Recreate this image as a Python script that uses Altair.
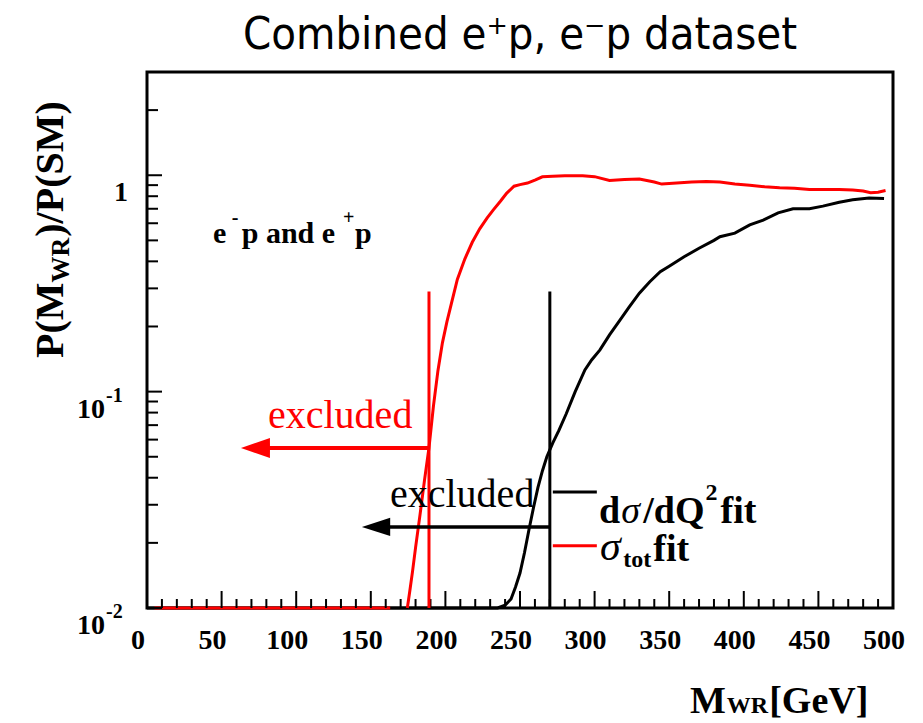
import altair as alt
import pandas as pd

# ---------------- data ----------------
# black curve: d sigma / dQ^2 fit
black_x = [0, 235, 240, 244, 247, 250, 253, 256, 259, 262, 265, 268, 272, 276, 281, 287, 293.5, 298, 303.6,
           310, 317, 323, 330, 337, 344, 350, 360, 370, 380, 384, 394, 404, 413, 423, 433, 444, 453, 464,
           473, 484, 494]
black_y = [0.01, 0.01, 0.0103, 0.011, 0.0125, 0.0145, 0.018, 0.023, 0.029, 0.036, 0.043, 0.05, 0.058, 0.066,
           0.079, 0.1, 0.126, 0.14, 0.156, 0.183, 0.214, 0.245, 0.285, 0.322, 0.358, 0.38, 0.42, 0.46, 0.5,
           0.52, 0.54, 0.59, 0.62, 0.67, 0.70, 0.70, 0.72, 0.75, 0.77, 0.785, 0.78]
# red curve: sigma_tot fit (two drawn pieces)
red_x = [5, 163, 174.5, 176, 178, 180, 183, 186, 189, 192, 195, 198, 201, 204, 208, 213, 218, 223, 228, 232,
         237, 241, 246, 250, 255, 260, 265, 272, 280, 292, 300, 310, 320, 330, 340, 345, 355, 365, 375, 384,
         394, 404, 414, 424, 434, 444, 454, 464, 473, 480, 485, 490, 495]
red_y = [0.01, 0.01, 0.01, 0.0118, 0.0148, 0.019, 0.027, 0.039, 0.055, 0.086, 0.125, 0.168, 0.21, 0.255,
         0.33, 0.41, 0.49, 0.565, 0.635, 0.69, 0.76, 0.825, 0.89, 0.905, 0.92, 0.95, 0.983, 0.99, 0.995,
         0.995, 0.985, 0.945, 0.955, 0.96, 0.93, 0.91, 0.92, 0.93, 0.935, 0.93, 0.91, 0.90, 0.885, 0.875,
         0.87, 0.86, 0.86, 0.86, 0.855, 0.845, 0.83, 0.835, 0.85]
red_piece = [0, 0] + [1] * (len(red_x) - 2)

# exclusion limits
red_limit = 189
black_limit = 270
limit_top = 0.29
red_arrow_y = 0.0549
black_arrow_y = 0.0237
red_arrow_tip = 63
black_arrow_tip = 144

# axis ticks / labels
x_labels = [0, 50, 100, 150, 200, 250, 300, 350, 400, 450, 500]
x_major = [50, 100, 150, 200, 250, 300, 350, 400, 450]
x_minor = [v for v in range(10, 500, 10) if v % 50 != 0]
y_major = [0.01, 0.1, 1]
y_minor = [0.02, 0.03, 0.04, 0.05, 0.06, 0.07, 0.08, 0.09,
           0.2, 0.3, 0.4, 0.5, 0.6, 0.7, 0.8, 0.9, 2]
y_pow_vals = [0.01, 0.1]
y_pow_sup = ["-2", "-1"]

# legend swatches (data coordinates)
leg_x = [272, 301.5]
leg_black_y = 0.0344
leg_red_y = 0.0194

# ---------------- styling ----------------
W, H = 746, 536
SERIF = "Liberation Serif, Times New Roman, serif"
SANS = "DejaVu Sans Condensed, Liberation Sans Narrow, DejaVu Sans, sans-serif"
RED = "#ff0000"

xscale = alt.Scale(domain=[0, 500], nice=False, zero=False)
yscale = alt.Scale(type="log", domain=[0.01, 3], nice=False)


def X(f):
    return alt.X(f, type="quantitative", scale=xscale, axis=None)


def Y(f):
    return alt.Y(f, type="quantitative", scale=yscale, axis=None)


one = pd.DataFrame({"k": [0]})

# Times (Liberation Serif) bold advance widths, em
TB = {'d': .556, 'Q': .778, '/': .278, 'f': .333, 'i': .278, 't': .333, 'o': .5, 'p': .556, 'a': .5,
      'n': .556, 'e': .444, ' ': .25, 'M': .944, 'W': 1.0, 'R': .722, 'P': .611, '(': .333, ')': .333,
      'S': .556, '[': .333, ']': .333, 'G': .778, 'V': .722, '2': .5, '-': .333, '+': .570}


def tw(s, size):
    return sum(TB[c] for c in s) * size


def txt(s, x, y, size, weight="bold", style="normal", color="black", font=SERIF, angle=0, align="left"):
    kw = dict(text=s, fontSize=size, fontWeight=weight, fontStyle=style, font=font, color=color,
              align=align, baseline="alphabetic")
    if angle:
        kw["angle"] = angle
    return alt.Chart(one).mark_text(**kw).encode(x=alt.value(x), y=alt.value(y))


layers = []

# curves
bdf = pd.DataFrame({"x": black_x, "y": black_y})
rdf = pd.DataFrame({"x": red_x, "y": red_y, "p": red_piece})
layers.append(alt.Chart(bdf).mark_line(color="black", strokeWidth=3).encode(x=X("x"), y=Y("y")))
layers.append(alt.Chart(rdf).mark_line(color=RED, strokeWidth=3).encode(x=X("x"), y=Y("y"), detail="p:N"))

# ticks (inside the frame)
layers.append(alt.Chart(pd.DataFrame({"t": x_major})).mark_rule(color="black", strokeWidth=2).encode(
    x=X("t"), y=alt.value(H), y2=alt.value(H - 17)))
layers.append(alt.Chart(pd.DataFrame({"t": x_minor})).mark_rule(color="black", strokeWidth=2).encode(
    x=X("t"), y=alt.value(H), y2=alt.value(H - 9)))
layers.append(alt.Chart(pd.DataFrame({"t": y_major})).mark_rule(color="black", strokeWidth=2).encode(
    y=Y("t"), x=alt.value(0), x2=alt.value(15)))
layers.append(alt.Chart(pd.DataFrame({"t": y_minor})).mark_rule(color="black", strokeWidth=2).encode(
    y=Y("t"), x=alt.value(0), x2=alt.value(11)))

# x tick labels
layers.append(alt.Chart(pd.DataFrame({"v": x_labels})).mark_text(
    font=SERIF, fontWeight="bold", fontSize=28, align="center", baseline="alphabetic", dx=-9,
    color="black").encode(x=X("v"), y=alt.value(H + 41), text=alt.Text("v:Q", format="d")))

# y tick labels
pdf = pd.DataFrame({"v": y_pow_vals, "s": y_pow_sup, "b": ["10", "10"]})
layers.append(alt.Chart(pdf).mark_text(font=SERIF, fontWeight="bold", fontSize=28, align="right",
                                       baseline="alphabetic", dy=26, color="black").encode(
    y=Y("v"), x=alt.value(-42), text="b:N"))
layers.append(alt.Chart(pdf).mark_text(font=SERIF, fontWeight="bold", fontSize=20, align="left",
                                       baseline="alphabetic", dy=10, color="black").encode(
    y=Y("v"), x=alt.value(-41), text="s:N"))
layers.append(alt.Chart(pd.DataFrame({"v": [1], "s": ["1"]})).mark_text(
    font=SERIF, fontWeight="bold", fontSize=28, align="right", baseline="alphabetic", dy=26,
    color="black").encode(y=Y("v"), x=alt.value(-19), text="s:N"))

# exclusion limits and arrows
ldf = pd.DataFrame({"x": [red_limit, black_limit], "y0": [0.01, 0.01], "y1": [limit_top, limit_top],
                    "c": ["r", "k"]})
cs = alt.Scale(domain=["r", "k"], range=[RED, "black"])
layers.append(alt.Chart(ldf).mark_rule(strokeWidth=3).encode(
    x=X("x"), y=Y("y0"), y2="y1", color=alt.Color("c:N", scale=cs, legend=None)))
layers.append(alt.Chart(pd.DataFrame({"x": [red_limit], "x2": [red_arrow_tip + 8], "y": [red_arrow_y]}))
              .mark_rule(color=RED, strokeWidth=4).encode(x=X("x"), x2="x2", y=Y("y")))
layers.append(alt.Chart(pd.DataFrame({"x": [black_limit], "x2": [black_arrow_tip + 8], "y": [black_arrow_y]}))
              .mark_rule(color="black", strokeWidth=3.5).encode(x=X("x"), x2="x2", y=Y("y")))
layers.append(alt.Chart(pd.DataFrame({"x": [red_arrow_tip + 9.7], "y": [red_arrow_y]})).mark_point(
    shape="M -1 0 L 1 -0.69 L 1 0.69 Z", size=841, filled=True, color=RED, opacity=1, strokeWidth=0
).encode(x=X("x"), y=Y("y")))
layers.append(alt.Chart(pd.DataFrame({"x": [black_arrow_tip + 9.5], "y": [black_arrow_y]})).mark_point(
    shape="M -1 0 L 1 -0.64 L 1 0.64 Z", size=800, filled=True, color="black", opacity=1, strokeWidth=0
).encode(x=X("x"), y=Y("y")))

# legend swatches
layers.append(alt.Chart(pd.DataFrame({"x": [leg_x[0]], "x2": [leg_x[1]], "y": [leg_black_y]})).mark_rule(
    color="black", strokeWidth=3).encode(x=X("x"), x2="x2", y=Y("y")))
layers.append(alt.Chart(pd.DataFrame({"x": [leg_x[0]], "x2": [leg_x[1]], "y": [leg_red_y]})).mark_rule(
    color=RED, strokeWidth=3).encode(x=X("x"), x2="x2", y=Y("y")))

# ---------------- text annotations (pixel positions relative to plot origin) ----------------
layers.append(txt("excluded", 121, 356, 40, weight="normal", color=RED))
layers.append(txt("excluded", 243, 435, 40, weight="normal"))

# e-p and e+p
layers.append(txt("e", 66, 171, 30))
layers.append(txt("-", 84.7, 152, 20))
layers.append(txt("p and e", 94.7, 171, 30))
layers.append(txt("+", 196, 152, 20))
layers.append(txt("p", 208, 171, 30))

# legend text line 1: d sigma / dQ^2 fit
x0, b1, fs = 452, 451, 38
layers.append(txt("d", x0, b1, fs))
x0 += tw("d", fs) + 1
layers.append(txt("σ", x0, b1, fs, weight="normal", style="italic"))
x0 += 0.53 * fs + 2
layers.append(txt("/dQ", x0, b1, fs))
x0 += tw("/dQ", fs) + 1
layers.append(txt("2", x0, 428, 24))
x0 += tw("2", 24) + 3
layers.append(txt("fit", x0, b1, fs))

# legend text line 2: sigma_tot fit
x0, b2 = 453, 488
layers.append(txt("σ", x0, b2, 42, weight="normal", style="italic"))
x0 += 0.53 * 42 + 1
layers.append(txt("tot", x0, b2 + 7, 24))
x0 += tw("tot", 24) + 2
layers.append(txt("fit", x0, b2 + 1, fs))

# x axis title: M_WR[GeV]
x0, bx = 543, 641
layers.append(txt("M", x0, bx, 38))
x0 += tw("M", 38) + 1
layers.append(txt("WR", x0, bx, 24))
x0 += tw("WR", 24) + 1
layers.append(txt("[GeV]", x0, bx, 38))

# y axis title: P(M_WR)/P(SM), rotated
y0, bxl = 358 - 72, -84
layers.append(txt("P(M", bxl, y0, 40, angle=270))
y0 -= tw("P(M", 40)
layers.append(txt("WR", bxl + 6, y0, 26, angle=270))
y0 -= tw("WR", 26) + 1
layers.append(txt(")/P(SM)", bxl, y0, 40, angle=270))

# main title
layers.append(txt("Combined e\u207ap, e\u207bp dataset", W / 2, -23, 45, weight="normal", font=SANS,
                  align="center"))

chart = alt.layer(*layers).properties(
    width=W, height=H,
    padding={"left": 139, "top": 64, "right": 22, "bottom": 115},
    autosize=alt.AutoSizeParams(type="none"),
    background="white",
).configure_view(stroke="black", strokeWidth=3)

chart.save("out.html", embed_options={"renderer": "svg", "actions": False})
